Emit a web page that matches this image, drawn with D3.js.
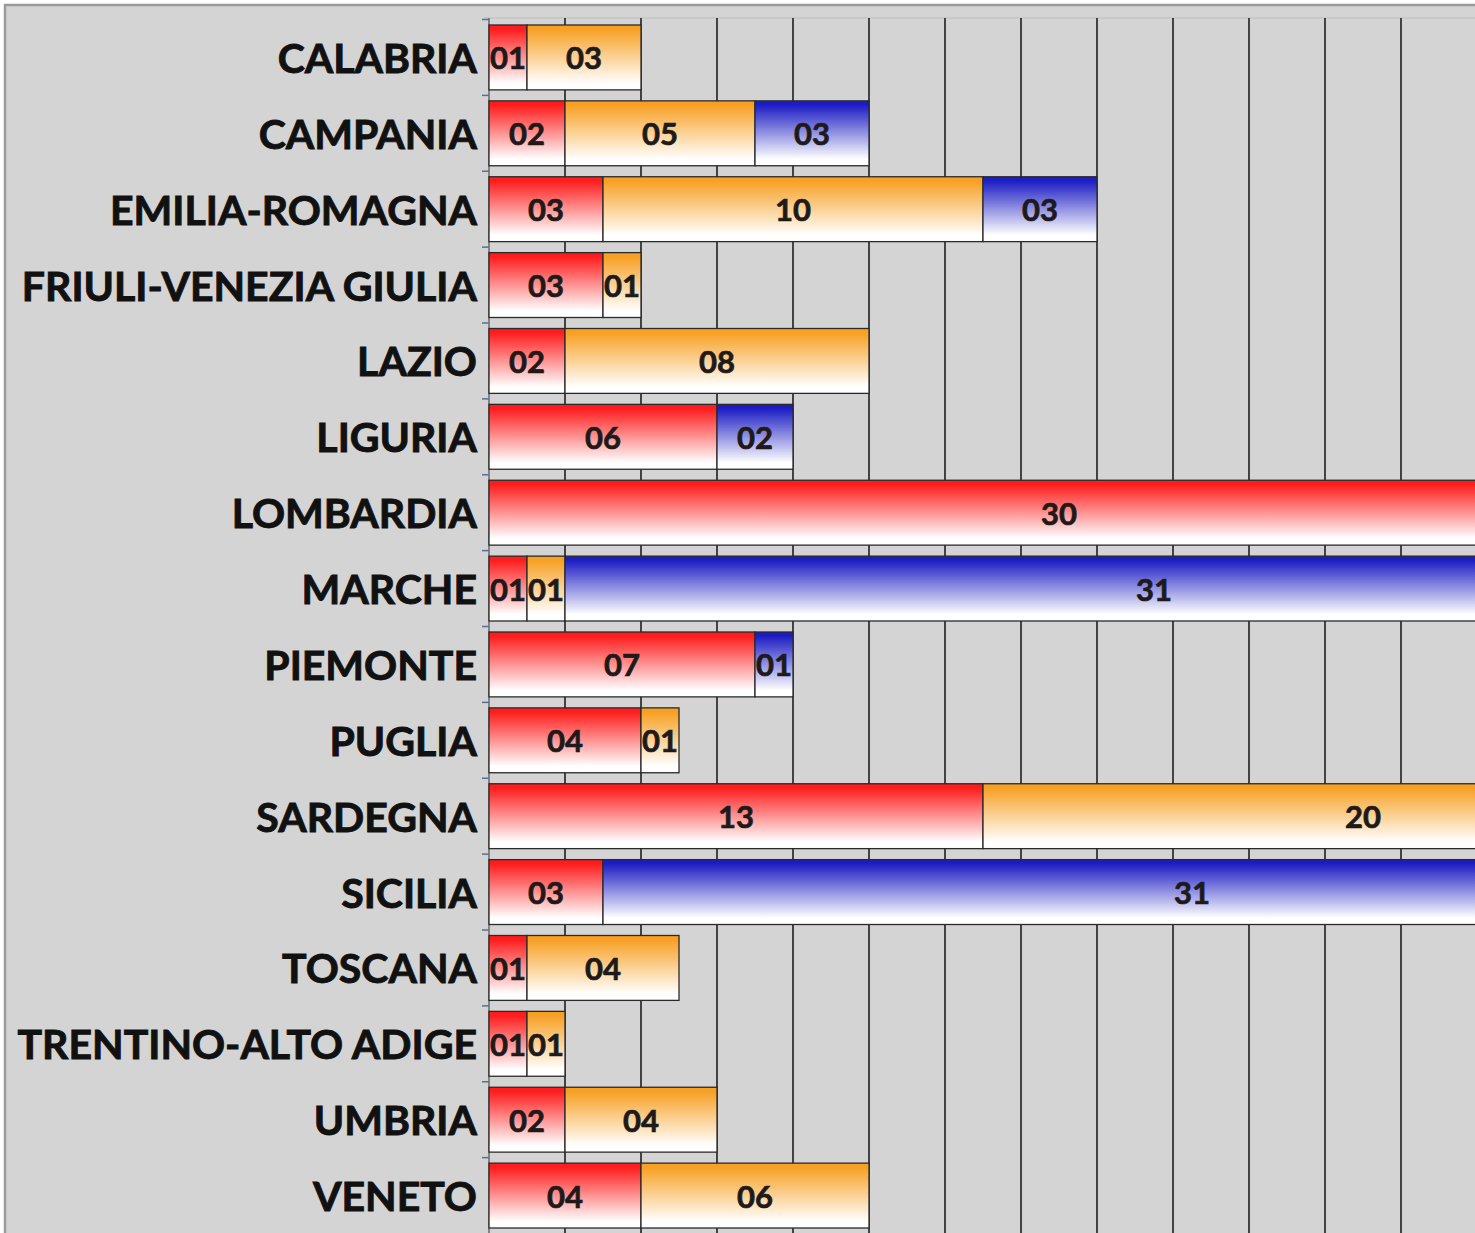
<!DOCTYPE html>
<html>
<head>
<meta charset="utf-8">
<script src="https://cdnjs.cloudflare.com/ajax/libs/d3/7.8.5/d3.min.js"></script>
<style>
  html, body { margin: 0; padding: 0; background: #ffffff; overflow: hidden; }
  svg { display: block; }
</style>
</head>
<body>
<svg id="chart" width="1475" height="1233"></svg>
<script>
const categories = ["CALABRIA","CAMPANIA","EMILIA-ROMAGNA","FRIULI-VENEZIA GIULIA","LAZIO","LIGURIA","LOMBARDIA","MARCHE","PIEMONTE","PUGLIA","SARDEGNA","SICILIA","TOSCANA","TRENTINO-ALTO ADIGE","UMBRIA","VENETO"];
const redValues    = [1, 2, 3, 3, 2, 6, 30, 1, 7, 4, 13, 3, 1, 1, 2, 4];
const orangeValues = [3, 5, 10, 1, 8, 0, 0, 1, 0, 1, 20, 0, 4, 1, 4, 6];
const blueValues   = [0, 3, 3, 0, 0, 2, 0, 31, 1, 0, 0, 31, 0, 0, 0, 0];
const seriesKeys = ["red", "orange", "blue"];
const gridTicks = d3.range(0, 35, 2);

const W = 1475, H = 1233;
const svg = d3.select("#chart");

// gradients
const defs = svg.append("defs");
const gradColors = { red: "#ff1c1c", orange: "#f7a023", blue: "#1c1cc4" };
seriesKeys.forEach(k => {
  const g = defs.append("linearGradient").attr("id", "g-" + k)
    .attr("x1", 0).attr("y1", 0).attr("x2", 0).attr("y2", 1);
  g.append("stop").attr("offset", "0%").attr("stop-color", gradColors[k]);
  g.append("stop").attr("offset", "6%").attr("stop-color", gradColors[k]);
  g.append("stop").attr("offset", "90%").attr("stop-color", "#ffffff");
  g.append("stop").attr("offset", "100%").attr("stop-color", "#ffffff");
});
defs.append("clipPath").attr("id", "plotclip").append("rect")
  .attr("x", 0).attr("y", 0).attr("width", W).attr("height", H);

// background frame
svg.append("rect").attr("x", 0).attr("y", 0).attr("width", W).attr("height", H).attr("fill", "#ffffff");
svg.append("rect").attr("x", 5).attr("y", 5).attr("width", W + 20).attr("height", H + 20)
  .attr("fill", "#d4d4d4").attr("stroke", "#9a9a9a").attr("stroke-width", 2.5);
svg.append("line").attr("x1", 484).attr("x2", W).attr("y1", 18).attr("y2", 18)
  .attr("stroke", "#bdbdbd").attr("stroke-width", 1);

const x = d3.scaleLinear().domain([0, 34]).range([489, 489 + 34 * 38]);
const y = d3.scaleBand().domain(categories).range([19.5, 1233.5]).paddingInner(0.145).paddingOuter(0.0725);

const data = categories.map((c, i) => ({ cat: c, red: redValues[i], orange: orangeValues[i], blue: blueValues[i] }));
const stacked = d3.stack().keys(seriesKeys)(data);

const g = svg.append("g").attr("clip-path", "url(#plotclip)");

// gridlines
g.append("g").selectAll("line").data(gridTicks).join("line")
  .attr("x1", d => x(d)).attr("x2", d => x(d))
  .attr("y1", 18).attr("y2", H)
  .attr("stroke", d => d === 0 ? "#7a7a7a" : "#333333")
  .attr("stroke-width", 1.8);

// category ticks on axis
const boundaries = categories.map(c => y(c) - y.step() * y.paddingInner() / 2);
g.append("g").selectAll("line").data(boundaries).join("line")
  .attr("x1", 482).attr("x2", 489).attr("y1", d => d).attr("y2", d => d)
  .attr("stroke", "#5a7090").attr("stroke-width", 1.5);

// bars
stacked.forEach(layer => {
  const key = layer.key;
  const segs = layer.map((d, i) => ({ x0: d[0], x1: d[1], cat: categories[i], v: d.data[key] })).filter(d => d.v > 0);
  g.append("g").selectAll("rect").data(segs).join("rect")
    .attr("x", d => x(d.x0)).attr("y", d => y(d.cat))
    .attr("width", d => x(d.x1) - x(d.x0)).attr("height", y.bandwidth())
    .attr("fill", `url(#g-${key})`)
    .attr("stroke", "#2a2a2a").attr("stroke-width", 1.3);
});

// value labels
const fmt = d3.format("02d");
stacked.forEach(layer => {
  const key = layer.key;
  const segs = layer.map((d, i) => ({ x0: d[0], x1: d[1], cat: categories[i], v: d.data[key] })).filter(d => d.v > 0);
  g.append("g").selectAll("text").data(segs).join("text")
    .attr("x", d => (x(d.x0) + x(d.x1)) / 2)
    .attr("y", d => y(d.cat) + y.bandwidth() / 2)
    .attr("text-anchor", "middle").attr("dominant-baseline", "central")
    .attr("font-family", "Lato, 'Open Sans', sans-serif").attr("font-weight", "bold")
    .attr("font-size", 31).attr("fill", "#1e1a1a")
    .attr("stroke", "#1e1a1a").attr("stroke-width", 0.7)
    .text(d => fmt(d.v));
});

// category labels
svg.append("g").selectAll("text").data(categories).join("text")
  .attr("x", 477).attr("y", d => y(d) + y.bandwidth() / 2)
  .attr("text-anchor", "end").attr("dominant-baseline", "central")
  .attr("font-family", "Lato, 'Open Sans', sans-serif").attr("font-weight", "bold")
  .attr("font-size", 41).attr("fill", "#111111")
  .attr("stroke", "#111111").attr("stroke-width", 0.9)
  .text(d => d);
</script>
</body>
</html>
